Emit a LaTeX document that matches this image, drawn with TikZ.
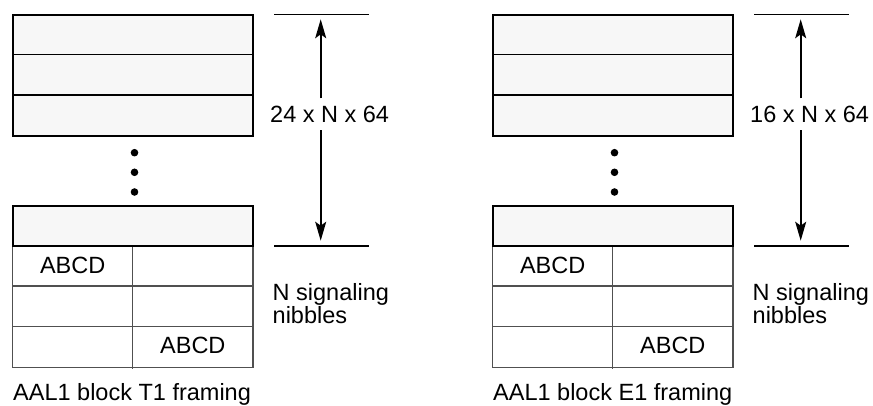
\documentclass[tikz,border=0pt]{standalone}
\usepackage{fontspec}
\setmainfont{Liberation Sans}
\usetikzlibrary{arrows.meta}
\definecolor{cellfill}{RGB}{247,247,247}
\definecolor{gridgray}{RGB}{80,80,80}
\newcommand\aalframing[4]{%
\begin{scope}[shift={(#1,0)}, name prefix=#2-]
  % upper block of rows
  \draw[framebox] (12.7,14.7) rectangle (253,135.7);
  \draw[rowline] (12.7,54.7) -- (253,54.7);
  \draw[rowline] (12.7,95) -- (253,95);
  % ellipsis
  \fill (134.5,152.7) circle[radius=3.8pt];
  \fill (134.5,172.3) circle[radius=3.8pt];
  \fill (134.5,192) circle[radius=3.8pt];
  % signalling table
  \draw[gridline] (12.7,246) rectangle (253,367.3);
  \draw[gridline] (12.7,286) -- (253,286);
  \draw[gridline] (12.7,326.7) -- (253,326.7);
  \draw[gridline] (132.7,246) -- (132.7,368.7);
  \draw[framebox] (12.7,206) rectangle (253,246);
  \node[txt] (abcd1) at (72.7,265.5) {ABCD};
  \node[txt] (abcd2) at (192.8,345.5) {ABCD};
  % dimension
  \draw[dimline] (274,14.7) -- (368.7,14.7);
  \draw[dimline] (274,246) -- (368.7,246);
  \coordinate (dimtop) at (320.7,19.3);
  \coordinate (dimbot) at (320.7,240.7);
  \node[txt, anchor=west, inner ysep=7.5pt] (dimlab) at (270,114.3) {#3};
  \draw[dimarrow] (dimtop |- dimlab.north) -- (dimtop);
  \draw[dimarrow] (dimtop |- dimlab.south) -- (dimbot);
  \node[txt, anchor=north west, align=left,
        font=\fontsize{23.5}{21.7}\selectfont] (nib) at (272.5,283.2) {N signaling\\nibbles};
  \node[txt, anchor=base west] (cap) at (13,400.5) {AAL1 block #4 framing};
\end{scope}}
\begin{document}
\begin{tikzpicture}[x=1pt, y=-1pt,
  font=\fontsize{23.5}{20}\selectfont,
  framebox/.style={draw=black, line width=2pt, fill=cellfill},
  rowline/.style={draw=black, line width=1.6pt},
  gridline/.style={draw=gridgray, line width=1.5pt},
  dimline/.style={draw=black, line width=1.6pt},
  dimarrow/.style={draw=black, line width=1.6pt, -{Stealth[length=19pt, width=11pt, inset=4pt]}},
  txt/.style={inner sep=0pt}]
  \useasboundingbox (0,0) rectangle (873,406);
  \aalframing{0}{L}{24 x N x 64}{T1}
  \aalframing{480}{R}{16 x N x 64}{E1}
\end{tikzpicture}
\end{document}
